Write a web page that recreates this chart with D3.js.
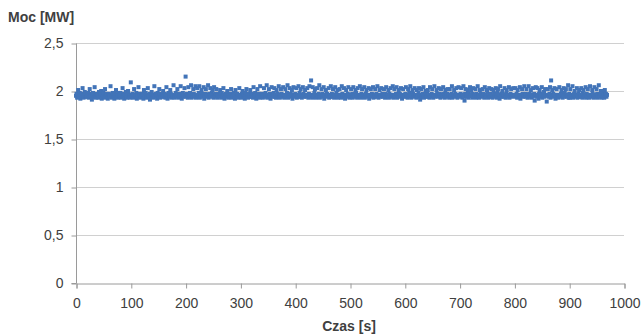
<!DOCTYPE html>
<html><head><meta charset="utf-8">
<script src="https://cdn.jsdelivr.net/npm/d3@7"></script>
<style>
html,body{margin:0;padding:0;background:#fff;}
svg{display:block;}
text{font-family:"Liberation Sans Narrow","Arial Narrow","Liberation Sans",sans-serif;fill:#404040;}
</style></head>
<body>
<svg id="c" width="641" height="336"></svg>
<script>
// Power samples [MW], one per second starting at t = 0 s
const power = [
1.95,1.97,1.93,1.96,2.01,1.94,1.95,1.98,1.92,1.96,1.97,1.94,2.03,1.95,1.93,1.96,1.99,1.94,1.97,1.95,
1.94,1.96,1.98,1.93,1.95,2.02,1.96,1.94,1.97,1.91,1.95,1.98,1.96,1.94,2.04,1.95,1.93,1.97,1.96,1.95,
1.96,1.93,1.99,1.95,1.94,1.97,2.00,1.92,1.96,1.95,1.98,1.94,1.93,2.02,1.96,1.95,1.97,1.94,1.92,1.96,
1.97,1.95,1.94,2.05,1.96,1.93,1.95,1.98,1.94,1.96,1.92,1.97,1.95,2.01,1.94,1.96,1.93,1.98,1.95,1.94,
1.95,1.98,1.93,1.96,1.94,2.03,1.95,1.97,1.92,1.96,1.94,1.99,1.95,1.93,1.97,2.00,1.94,1.96,1.95,1.93,
2.09,1.96,1.94,1.97,1.95,1.93,2.02,1.96,1.95,1.94,1.98,1.92,1.96,1.95,2.04,1.94,1.97,1.93,1.95,1.96,
1.94,1.97,1.95,1.92,2.01,1.96,1.94,1.98,1.95,1.93,1.96,2.03,1.95,1.94,1.97,1.91,1.96,1.95,1.99,1.94,
1.96,1.93,1.95,2.05,1.94,1.97,1.95,1.96,1.92,1.98,1.95,1.94,2.02,1.96,1.93,1.97,1.95,1.94,1.96,2.00,
1.95,1.94,1.97,1.93,1.96,2.04,1.95,1.92,1.96,1.98,1.94,1.95,2.01,1.97,1.93,1.95,1.96,1.94,2.06,1.95,
1.93,1.96,1.98,1.94,1.95,2.02,1.96,1.93,1.97,1.95,1.94,2.05,1.96,1.92,1.95,1.98,1.94,1.96,2.03,1.95,
2.15,1.94,1.97,1.95,1.93,2.04,1.96,1.95,1.98,1.94,2.06,1.93,1.96,1.95,2.02,1.97,1.94,1.95,2.05,1.93,
1.96,2.03,1.95,1.94,1.98,2.05,1.93,1.96,1.95,2.01,1.97,1.94,1.96,2.04,1.92,1.95,1.97,2.02,1.94,1.96,
1.95,2.06,1.93,1.97,1.95,2.03,1.94,1.96,1.98,2.01,1.95,1.93,2.04,1.96,1.94,1.97,2.02,1.95,1.93,1.96,
1.97,1.94,1.95,2.01,1.96,1.93,1.98,1.95,1.94,2.03,1.96,1.92,1.95,1.97,1.94,1.96,2.00,1.95,1.93,1.97,
1.95,1.94,1.96,2.02,1.93,1.97,1.95,1.94,1.98,1.96,1.92,2.01,1.95,1.94,1.97,1.95,1.93,1.96,2.03,1.94,
1.96,1.95,1.93,1.97,2.00,1.94,1.96,1.95,1.92,1.98,1.94,2.02,1.96,1.95,1.93,1.97,1.94,1.96,2.01,1.95,
1.94,1.97,1.95,1.93,2.04,1.96,1.94,1.98,1.95,1.92,1.96,2.02,1.95,1.94,1.97,1.93,2.05,1.95,1.96,1.94,
1.97,1.93,1.95,2.03,1.96,1.94,1.98,1.95,2.06,1.93,1.96,1.95,2.02,1.94,1.97,1.92,1.95,2.04,1.96,1.94,
1.95,1.98,2.03,1.94,1.96,1.93,2.01,1.95,1.97,1.94,2.05,1.96,1.93,1.95,2.02,1.97,1.94,1.96,2.04,1.95,
1.93,1.96,2.02,1.95,1.94,1.98,2.06,1.93,1.96,1.95,2.03,1.94,1.97,1.95,2.01,1.92,1.96,2.04,1.95,1.94,
1.97,1.95,2.03,1.93,1.96,1.94,2.05,1.95,1.98,1.94,2.02,1.96,1.93,1.95,2.04,1.97,1.94,1.96,2.01,1.95,
1.94,1.96,2.03,1.95,1.93,1.97,2.05,1.94,1.96,2.11,1.95,1.93,2.04,1.96,1.94,1.98,2.02,1.95,1.93,1.96,
2.03,1.95,1.94,1.97,2.06,1.93,1.96,1.95,2.02,1.94,1.97,1.95,2.04,1.92,1.96,1.95,2.01,1.94,1.97,1.96,
1.95,2.03,1.93,1.96,1.94,2.05,1.95,1.97,1.94,2.02,1.96,1.93,1.95,2.04,1.94,1.98,1.95,2.01,1.93,1.96,
1.94,2.02,1.96,1.95,1.93,2.05,1.97,1.94,1.96,2.03,1.95,1.92,1.96,2.01,1.95,1.94,1.97,2.04,1.95,1.93,
1.96,1.95,2.02,1.94,1.97,1.93,2.04,1.95,1.96,1.94,2.01,1.98,1.95,1.93,2.03,1.96,1.94,1.95,2.05,1.96,
1.93,1.97,2.02,1.95,1.94,1.96,2.04,1.93,1.95,1.97,2.01,1.94,1.96,1.95,2.03,1.92,1.96,1.95,2.02,1.94,
1.97,1.95,2.04,1.93,1.96,1.94,2.02,1.95,1.97,1.94,2.05,1.96,1.93,1.95,2.01,1.96,1.94,2.03,1.95,1.97,
1.94,1.96,2.02,1.95,1.93,1.97,2.04,1.94,1.96,1.95,2.01,1.93,1.97,1.95,2.03,1.94,1.96,1.95,2.05,1.93,
1.96,2.02,1.95,1.94,1.97,2.04,1.93,1.95,1.96,2.01,1.94,1.97,1.95,2.03,1.96,1.92,1.95,2.02,1.94,1.96,
1.95,1.97,2.04,1.94,1.96,1.93,2.02,1.95,1.98,1.94,2.05,1.96,1.93,1.95,2.01,1.97,1.94,1.96,2.03,1.95,
1.95,1.93,2.01,1.96,1.94,1.98,2.03,1.95,1.91,1.96,2.02,1.94,1.96,1.97,2.04,1.93,1.95,1.96,2.00,1.94,
1.94,1.97,2.01,1.95,1.96,1.93,2.04,1.95,1.94,1.97,2.02,1.96,1.93,1.95,2.05,1.94,1.96,1.95,2.01,1.97,
1.96,1.94,2.03,1.95,1.97,1.93,2.02,1.96,1.95,1.94,2.04,1.97,1.95,1.93,2.01,1.96,1.94,1.97,2.02,1.95,
1.95,1.93,2.02,1.96,1.94,1.97,2.05,1.93,1.95,1.96,2.01,1.94,1.97,1.95,2.03,1.96,1.93,1.95,2.04,1.96,
1.96,1.94,1.97,2.03,1.95,1.93,1.96,2.05,1.94,1.90,1.97,2.02,1.95,1.94,1.96,2.01,1.93,1.97,1.95,2.04,
1.95,2.01,1.96,1.93,1.97,2.03,1.94,1.96,1.95,2.02,1.93,1.97,1.94,2.05,1.95,1.96,1.93,2.01,1.95,1.97,
1.96,1.94,2.02,1.95,1.97,1.93,2.04,1.96,1.94,1.95,2.01,1.97,1.93,1.96,2.03,1.94,1.95,1.97,2.02,1.94,
1.93,1.95,2.01,1.97,1.94,1.96,2.03,1.95,1.93,1.98,2.02,1.94,1.96,1.92,2.05,1.95,1.97,1.94,2.00,1.96,
1.94,1.96,2.03,1.95,1.93,1.97,2.01,1.94,1.96,1.95,2.04,1.93,1.96,1.97,2.02,1.95,1.94,1.96,2.03,1.95,
1.95,1.96,2.03,1.94,1.97,1.93,2.01,1.95,1.96,1.94,2.04,1.92,1.96,1.95,2.02,1.97,1.94,1.96,2.05,1.95,
1.94,1.97,2.02,1.95,1.93,1.96,2.05,1.94,1.97,1.95,2.01,1.93,1.96,1.94,2.03,1.95,1.97,1.90,1.96,2.04,
1.95,1.94,2.03,1.96,1.92,1.97,2.01,1.95,1.94,1.96,2.04,1.93,1.97,1.95,1.99,1.94,2.02,1.96,1.95,1.89,
1.96,2.02,1.95,1.94,1.97,2.04,1.93,2.11,1.96,2.01,1.94,1.97,1.95,2.03,1.96,1.92,1.95,2.02,1.94,1.96,
1.93,1.96,2.04,1.95,1.94,1.97,2.01,1.96,1.93,1.95,2.03,1.94,1.98,1.95,2.02,1.96,1.94,1.95,2.06,1.93,
1.97,1.93,2.02,1.96,1.95,1.94,2.05,1.93,1.96,1.97,2.00,1.95,1.94,1.96,2.03,1.93,1.95,1.97,2.01,1.94,
1.94,1.96,2.03,1.95,1.93,1.98,2.01,1.94,1.96,1.95,2.04,1.93,1.97,1.94,2.02,1.95,1.96,1.93,2.05,1.95,
1.96,1.94,2.01,1.97,1.95,1.93,2.04,1.96,1.94,1.95,2.02,1.97,1.93,1.96,2.06,1.94,1.95,1.97,2.00,1.93,
1.97,1.95,1.94,1.96,1.93,2.01,1.95,1.97,1.94,1.96
];
const sampleStart = 0;      // s
const samplePeriod = 1;     // s

const xTicks = [0,100,200,300,400,500,600,700,800,900,1000];
const yTicks = [0,0.5,1,1.5,2,2.5];
const yTickLabels = ["0","0,5","1","1,5","2","2,5"];
const xTitle = "Czas [s]";
const yTitle = "Moc [MW]";

const svg = d3.select("#c");
const L = 76, R = 624, T = 43, B = 283;
const x = d3.scaleLinear().domain([0,1000]).range([L,R]);
const y = d3.scaleLinear().domain([0,2.5]).range([B,T]);

// gridlines
svg.append("g").selectAll("line").data(yTicks.filter(d=>d>0)).join("line")
  .attr("x1",L).attr("x2",R).attr("y1",d=>Math.round(y(d))+0.5).attr("y2",d=>Math.round(y(d))+0.5)
  .attr("stroke","#d0d0d0").attr("stroke-width",1);

// axes
const yAxis = d3.axisLeft(y).tickValues(yTicks).tickSize(5).tickPadding(8)
  .tickFormat((d,i)=>yTickLabels[i]);
const gy = svg.append("g").attr("transform",`translate(${L+0.5},0.5)`).call(yAxis);
const xAxis = d3.axisBottom(x).tickValues(xTicks).tickSize(5).tickPadding(10).tickFormat(d3.format("d"));
const gx = svg.append("g").attr("transform",`translate(0.5,${B+0.5})`).call(xAxis);
[gx,gy].forEach(g=>{
  g.select(".domain").attr("stroke","#9a9a9a");
  g.selectAll(".tick line").attr("stroke","#9a9a9a");
  g.selectAll(".tick text").attr("fill","#404040").style("font-size","14px")
   .style("font-family",'"Liberation Sans Narrow","Arial Narrow","Liberation Sans",sans-serif');
});
gy.select(".domain").attr("d",`M-5,${B}H0V${T}`);

// points
const pts = power.map((v,i)=>({t: sampleStart + i*samplePeriod, v}));
svg.append("g").selectAll("rect").data(pts).join("rect")
  .attr("x",d=>x(d.t)-2).attr("y",d=>y(d.v)-2)
  .attr("width",4).attr("height",4)
  .attr("fill","#4274b8");

// titles
svg.append("text").attr("x",8).attr("y",22).text(yTitle)
  .style("font-weight","bold").style("font-size","14px");
svg.append("text").attr("x",349).attr("y",331).attr("text-anchor","middle").text(xTitle)
  .style("font-weight","bold").style("font-size","14px");
</script>
</body></html>
